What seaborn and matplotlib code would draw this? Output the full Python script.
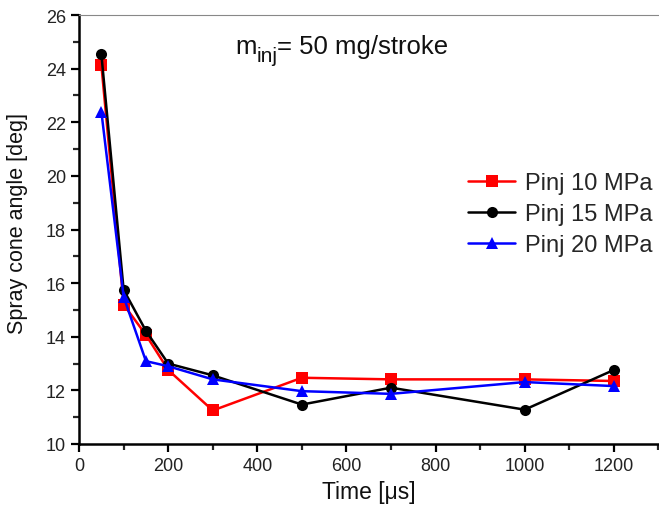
import numpy as np
import pandas as pd
import seaborn as sns
import matplotlib.pyplot as plt
from matplotlib.ticker import MultipleLocator
from matplotlib.transforms import offset_copy

# injection times [us]
time_us = [50, 100, 150, 200, 300, 500, 700, 1000, 1200]

# spray cone angle [deg] per injection pressure
angle_10mpa = [24.15, 15.2, 14.07, 12.76, 11.25, 12.47, 12.41, 12.41, 12.35]
angle_15mpa = [24.54, 15.75, 14.22, 13.0, 12.56, 11.47, 12.1, 11.28, 12.76]
angle_20mpa = [22.4, 15.49, 13.09, 12.9, 12.41, 11.97, 11.87, 12.31, 12.16]

series_labels = ["Pinj 10 MPa", "Pinj 15 MPa", "Pinj 20 MPa"]

rows = []
for label, vals in zip(series_labels, [angle_10mpa, angle_15mpa, angle_20mpa]):
    for t, v in zip(time_us, vals):
        rows.append({"Time": t, "Angle": v, "Series": label})
df = pd.DataFrame(rows)

sns.set_style("ticks")
plt.rcParams['font.family'] = ['Liberation Sans', 'DejaVu Sans']

fig = plt.figure(figsize=(6.59, 5.10), dpi=100)
ax = fig.add_axes([0.12, 0.1275, 0.879, 0.841])

palette = {"Pinj 10 MPa": "#ff0000", "Pinj 15 MPa": "#000000", "Pinj 20 MPa": "#0000ff"}
markers = {"Pinj 10 MPa": "s", "Pinj 15 MPa": "o", "Pinj 20 MPa": "^"}

sns.lineplot(data=df, x="Time", y="Angle", hue="Series", style="Series",
             palette=palette, markers=markers, dashes=False,
             markersize=8, markeredgewidth=0, linewidth=1.8, ax=ax)

ax.set_xlim(0, 1300)
ax.set_ylim(10, 26)
ax.xaxis.set_major_locator(MultipleLocator(200))
ax.xaxis.set_minor_locator(MultipleLocator(100))
ax.yaxis.set_major_locator(MultipleLocator(2))
ax.yaxis.set_minor_locator(MultipleLocator(1))
ax.tick_params(which='major', length=6, width=1.6, labelsize=13, color='black', labelcolor='#222222')
ax.tick_params(which='minor', length=4, width=1.6)

for s in ['left', 'bottom']:
    ax.spines[s].set_linewidth(1.8)
    ax.spines[s].set_color('black')
ax.spines['top'].set_color('#888888')
ax.spines['top'].set_linewidth(0.8)
ax.spines['right'].set_visible(False)

ax.set_xlabel("Time [\u03bcs]", fontsize=16.5, color='#111111')
ax.set_ylabel("Spray cone angle [deg]", fontsize=15.5, color='#111111')
ax.yaxis.set_label_coords(-0.089, 0.517)

# annotation m_inj = 50 mg/stroke, built from pieces so the subscript stays large
fig.canvas.draw()
renderer = fig.canvas.get_renderer()
ax_x, ax_y = 0.269, 0.912
t1 = ax.text(ax_x, ax_y, "m", transform=ax.transAxes, fontsize=18.5, color='#111111')
ext = t1.get_window_extent(renderer)
t2 = ax.text(ax_x, ax_y, "inj", fontsize=15, color='#111111',
             transform=offset_copy(ax.transAxes, fig=fig, x=ext.width * 72 / fig.dpi, y=-6, units='points'))
ext2 = t2.get_window_extent(renderer)
t3 = ax.text(ax_x, ax_y, "= 50 mg/stroke", fontsize=18.5, color='#111111',
             transform=offset_copy(ax.transAxes, fig=fig, x=(ext.width + ext2.width) * 72 / fig.dpi, y=0, units='points'))

leg = ax.legend(loc='upper right', bbox_to_anchor=(1.026, 0.684), frameon=False,
                fontsize=17, handlelength=2.0, labelspacing=0.38, handletextpad=0.4)

fig.savefig("out.png", dpi=100)
